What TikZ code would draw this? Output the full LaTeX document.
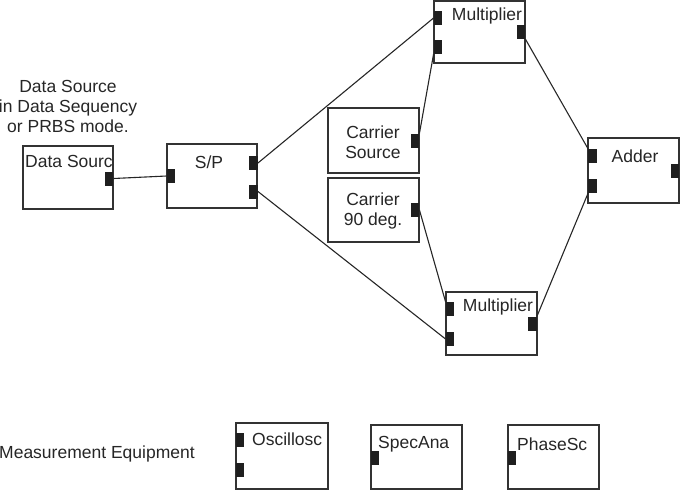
\documentclass[tikz,border=0pt]{standalone}
\usepackage{fontspec}
\setmainfont{Liberation Sans}
\begin{document}
\begin{tikzpicture}[x=1pt,y=-1pt,
  box/.style={draw=black!80,line width=1.4pt,fill=white,inner sep=0,minimum width=91pt,minimum height=64pt},
  port/.style={fill=black!88,draw=none,inner sep=0,minimum width=8.5pt,minimum height=14pt},
  txt/.style={inner sep=0,text=black!85,font=\fontsize{17.5}{20}\selectfont,align=center},
  wire/.style={draw=black!85,line width=1.1pt}]
\useasboundingbox (0,0) rectangle (680,491);
% boxes
\node[box,minimum width=90pt,minimum height=63pt] (ds) at (68,177.5) {};
\node[box,minimum width=90pt] (sp) at (212,176) {};
\node[box,minimum height=62pt] (m1) at (479.5,32) {};
\node[box,minimum height=65pt] (cs) at (373.5,140.5) {};
\node[box] (c90) at (373.5,210) {};
\node[box,minimum height=63pt] (m2) at (491.5,323.5) {};
\node[box,minimum height=65pt] (ad) at (633.5,170.5) {};
\node[box,minimum width=92pt,minimum height=66pt] (osc) at (282,456) {};
\node[box] (spa) at (416.5,457) {};
\node[box] (phs) at (553.5,457) {};
% ports
\node[port] (dso) at (109,178.5) {};
\node[port] (spi) at (171,176) {};
\node[port] (spo1) at (253.5,163) {};
\node[port] (spo2) at (253.5,191.5) {};
\node[port] (m1i1) at (438,18) {};
\node[port] (m1i2) at (438,47) {};
\node[port] (m1o) at (521,32) {};
\node[port] (csp) at (415,140.5) {};
\node[port] (c90p) at (415,210) {};
\node[port] (m2i1) at (450,309) {};
\node[port] (m2i2) at (450,339) {};
\node[port] (m2o) at (532.5,323.5) {};
\node[port] (adi1) at (592.5,156) {};
\node[port] (adi2) at (592.5,186) {};
\node[port] (ado) at (675,170.5) {};
\node[port] (osci1) at (240,440) {};
\node[port] (osci2) at (240,470) {};
\node[port] (spai) at (375,457.5) {};
\node[port] (phsi) at (512,457.5) {};
% texts
\node[txt] (dslbl) at (68,106) {Data Source\\in Data Sequency\\or PRBS mode.};
\node[txt,anchor=west] (dst) at (25,161) {Data Sourc};
\node[txt] (spt) at (209,162) {S/P};
\node[txt] (m1t) at (487,16) {Multiplier};
\node[txt] (cst) at (373,142) {Carrier\\Source};
\node[txt] (c90t) at (373,211) {Carrier\\90 deg.};
\node[txt] (m2t) at (498,307) {Multiplier};
\node[txt] (adt) at (635,156) {Adder};
\node[txt,anchor=west] (meas) at (-1,454) {Measurement Equipment};
\node[txt,anchor=west] (osct) at (252,439) {Oscillosc};
\node[txt,anchor=west] (spat) at (378,444) {SpecAna};
\node[txt,anchor=west] (phst) at (517,444) {PhaseSc};
% wires
\draw[wire] (dso.east) -- (spi.west);
\draw[wire] (spo1.east) -- (m1i1.west);
\draw[wire] (spo2.east) -- (m2i2.west);
\draw[wire] (csp.north east) -- (m1i2.south west);
\draw[wire] (c90p.east) -- (m2i1.north west);
\draw[wire] (m1o.south east) -- (adi1.north west);
\draw[wire] (m2o.north east) -- (adi2.south west);
\end{tikzpicture}
\end{document}
